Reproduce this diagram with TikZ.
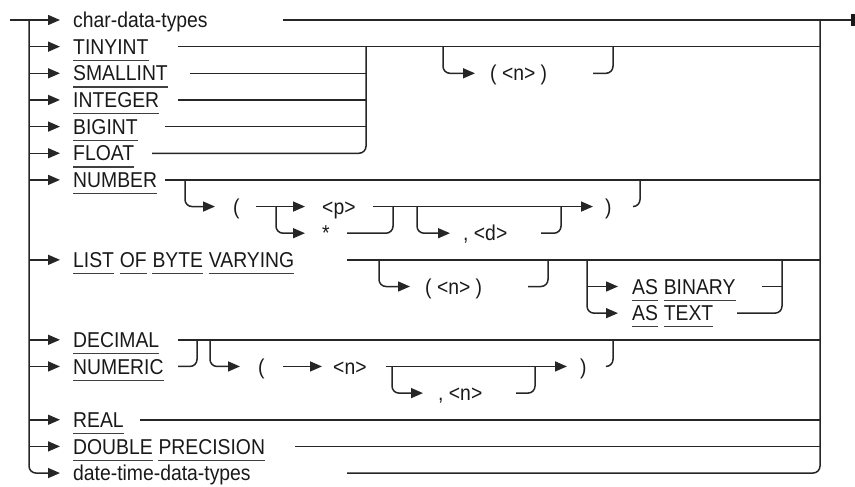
\documentclass[tikz,border=0pt]{standalone}
\usepackage{fontspec}
\setmainfont{Liberation Sans}[FakeStretch=0.9]
\usetikzlibrary{arrows.meta}
\newcommand\KWnode[4]{\node[lbl] (#1) at (#2,#3) {#4};
  \draw[ulin] ([yshift=-5.8pt]#1.south west) -- ([yshift=-5.8pt]#1.south east);}
\newcommand\KWafter[3]{\node[lbl] (#1) at ([xshift=5.4pt]#2.east) {#3};
  \draw[ulin] ([yshift=-5.8pt]#1.south west) -- ([yshift=-5.8pt]#1.south east);}
\begin{document}
\begin{tikzpicture}[x=1pt,y=-1pt,
  rr/.style={line width=1.5pt, draw=black!85, rounded corners=7pt},
  arr/.style={rr, -{Triangle[length=12pt,width=10pt]}},
  lbl/.style={anchor=west, inner sep=0pt, text height=15.4pt, text depth=0pt,
    font=\fontsize{21.5}{24}\selectfont, text=black!90},
  ulin/.style={line width=1.1pt, draw=black!75}]
\useasboundingbox (0,0) rectangle (855,487);
% labels
\node[lbl] (cdt) at (73,20) {char-data-types};
\KWnode{tiny}{73}{46.65}{TINYINT}
\KWnode{small}{73}{73.3}{SMALLINT}
\KWnode{integer}{73}{99.95}{INTEGER}
\KWnode{bigint}{73}{126.6}{BIGINT}
\KWnode{float}{73}{153.25}{FLOAT}
\node[lbl] (n0) at (490,73.3) {( <n> )};
\KWnode{number}{73}{179.9}{NUMBER}
\node[lbl] (lpa) at (233,206.55) {(};
\node[lbl] (p) at (322,206.55) {<p>};
\node[lbl] (rpa) at (605,206.55) {)};
\node[lbl] (star) at (322,233.2) {*};
\node[lbl] (d) at (463,233.2) {, <d>};
\KWnode{list}{73}{259.85}{LIST}
\KWafter{of}{list}{OF}
\KWafter{byte}{of}{BYTE}
\KWafter{varying}{byte}{VARYING}
\node[lbl] (n1) at (425,286.5) {( <n> )};
\KWnode{asb}{632}{286.5}{AS}
\KWafter{binary}{asb}{BINARY}
\KWnode{ast}{632}{313.15}{AS}
\KWafter{text}{ast}{TEXT}
\KWnode{decimal}{73}{339.8}{DECIMAL}
\KWnode{numeric}{73}{366.45}{NUMERIC}
\node[lbl] (lpb) at (258,366.45) {(};
\node[lbl] (n2) at (333,366.45) {<n>};
\node[lbl] (rpb) at (580,366.45) {)};
\node[lbl] (n3) at (438,393.1) {, <n>};
\KWnode{real}{73}{419.75}{REAL}
\KWnode{double}{73}{446.4}{DOUBLE}
\KWafter{precision}{double}{PRECISION}
\node[lbl] (dtd) at (73,473.05) {date-time-data-types};
% left trunk
\coordinate (start) at (10,20);
\draw[arr] (start) -- ([xshift=-13pt]cdt.west);
\draw[arr] (29,20) -- (29,473.05) -- ([xshift=-13pt]dtd.west);
\foreach \n in {tiny,small,integer,bigint,float,number,list,decimal,numeric,real,double}
  \draw[arr] (29,0 |- \n.west) -- ([xshift=-13pt]\n.west);
% right trunk
\coordinate (endp) at (853,20);
\draw[rr] (283,20) -- (endp);
\fill[black!90] (850.5,14) rectangle (854.5,26.5);
\draw[rr] (820,20) -- (820,473.05) -- (347,473.05);
% integers
\draw[rr] (178,46.65) -- (820,46.65);
\draw[rr] (190,73.3) -- (366,73.3);
\draw[rr] (178,99.95) -- (366,99.95);
\draw[rr] (165,126.6) -- (366,126.6);
\draw[rr] (366,46.65) -- (366,153.25) -- (152,153.25);
\draw[arr] (443,46.65) -- (443,73.3) -- ([xshift=-15pt]n0.west);
\draw[rr] (593,73.3) -- (613,73.3) -- (613,46.65);
% NUMBER
\draw[rr] (165,179.9) -- (820,179.9);
\draw[arr] (185,179.9) -- (185,206.55) -- ([xshift=-18pt]lpa.west);
\draw[arr] (256,206.55) -- ([xshift=-17pt]p.west);
\draw[arr] (276,206.55) -- (276,233.2) -- ([xshift=-17pt]star.west);
\draw[arr] (373,206.55) -- ([xshift=-12pt]rpa.west);
\draw[rr] (347,233.2) -- (393,233.2) -- (393,206.55);
\draw[arr] (417,206.55) -- (417,233.2) -- ([xshift=-13pt]d.west);
\draw[rr] (541,233.2) -- (561,233.2) -- (561,206.55);
\draw[rr] (633,206.55) -- (640,206.55) -- (640,179.9);
% LIST OF BYTE VARYING
\draw[rr] (347,259.85) -- (820,259.85);
\draw[arr] (379,259.85) -- (379,286.5) -- ([xshift=-15pt]n1.west);
\draw[rr] (528,286.5) -- (548,286.5) -- (548,259.85);
\draw[arr] (587,259.85) -- (587,313.15) -- ([xshift=-14pt]ast.west);
\draw[arr] (587,286.5) -- ([xshift=-14pt]asb.west);
\draw[rr] (762,286.5) -- (782,286.5);
\draw[rr] (782,259.85) -- (782,313.15) -- (737,313.15);
% DECIMAL / NUMERIC
\draw[rr] (178,339.8) -- (820,339.8);
\draw[rr] (178,366.45) -- (197,366.45) -- (197,339.8);
\draw[arr] (210,339.8) -- (210,366.45) -- ([xshift=-18pt]lpb.west);
\draw[arr] (283,366.45) -- ([xshift=-11pt]n2.west);
\draw[arr] (386,366.45) -- ([xshift=-13pt]rpb.west);
\draw[rr] (607,366.45) -- (613,366.45) -- (613,339.8);
\draw[arr] (392,366.45) -- (392,393.1) -- ([xshift=-15pt]n3.west);
\draw[rr] (516,393.1) -- (535,393.1) -- (535,366.45);
% REAL, DOUBLE PRECISION
\draw[rr] (140,419.75) -- (820,419.75);
\draw[rr] (295,446.4) -- (820,446.4);
\end{tikzpicture}
\end{document}
